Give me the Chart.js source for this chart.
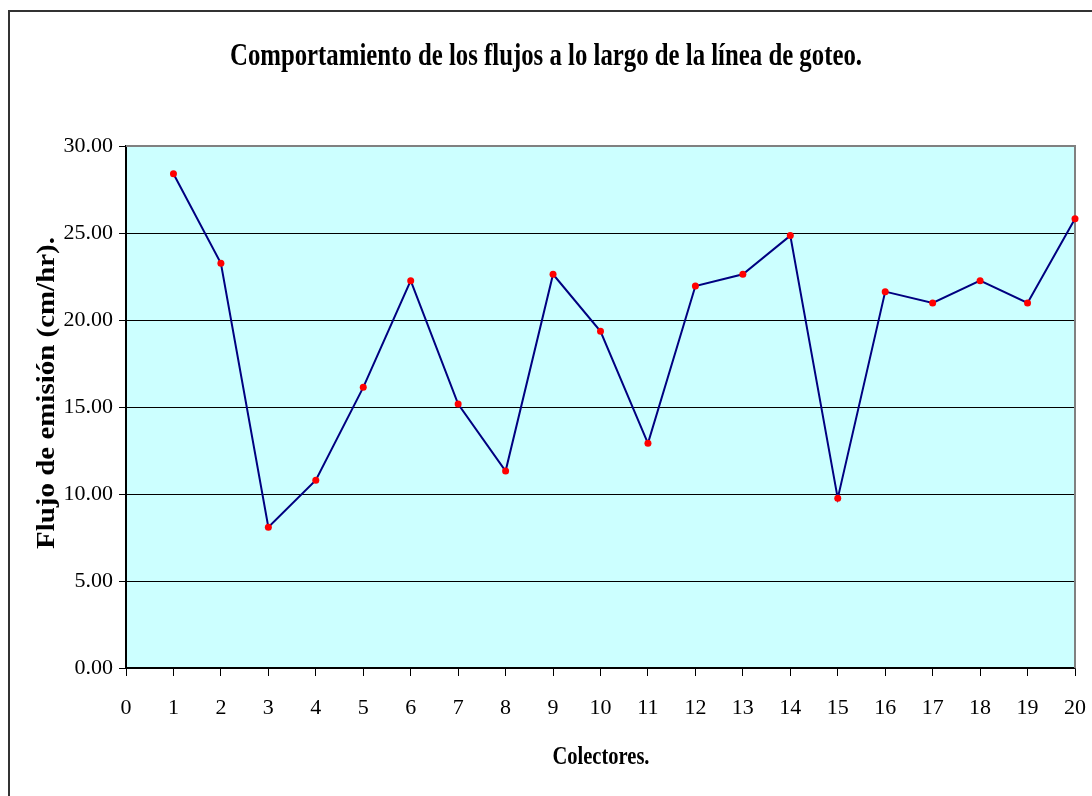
<!DOCTYPE html>
<html>
<head>
<meta charset="utf-8">
<script src="https://cdn.jsdelivr.net/npm/chart.js@4/dist/chart.umd.min.js"></script>
<style>
  html, body { margin: 0; padding: 0; background: #ffffff; }
  canvas { display: block; }
</style>
</head>
<body>
<canvas id="c" width="1092" height="796"></canvas>
<script>
// ---- Data ----
const colectores = [1, 2, 3, 4, 5, 6, 7, 8, 9, 10, 11, 12, 13, 14, 15, 16, 17, 18, 19, 20];
const flujo = [28.41, 23.26, 8.09, 10.79, 16.13, 22.26, 15.17, 11.32, 22.63, 19.35,
               12.91, 21.95, 22.63, 24.85, 9.75, 21.63, 20.98, 22.26, 20.98, 25.82];
const xTickValues = [0, 1, 2, 3, 4, 5, 6, 7, 8, 9, 10, 11, 12, 13, 14, 15, 16, 17, 18, 19, 20];
const yTickLabels = ['0.00', '5.00', '10.00', '15.00', '20.00', '25.00', '30.00'];
const chartTitle = 'Comportamiento de los flujos a lo largo de la línea de goteo.';
const xTitle = 'Colectores.';
const yTitle = 'Flujo de emisión (cm/hr).';

const SERIF = '"Liberation Serif", "Times New Roman", serif';

function fitText(ctx, text, font, cx, cy, targetW, rotate) {
  ctx.save();
  ctx.font = font;
  ctx.fillStyle = '#000';
  ctx.textAlign = 'center';
  ctx.textBaseline = 'alphabetic';
  const w = ctx.measureText(text).width;
  const sx = targetW / w;
  ctx.translate(cx, cy);
  if (rotate) ctx.rotate(-Math.PI / 2);
  ctx.scale(sx, 1);
  ctx.fillText(text, 0, 0);
  ctx.restore();
}

const decor = {
  id: 'decor',
  beforeDraw(chart) {
    const ctx = chart.ctx, a = chart.chartArea;
    ctx.save();
    ctx.fillStyle = '#ffffff';
    ctx.fillRect(0, 0, chart.width, chart.height);
    ctx.strokeStyle = '#333333';
    ctx.lineWidth = 2;
    ctx.strokeRect(9, 11, chart.width + 20, chart.height + 20);
    ctx.fillStyle = '#CCFFFF';
    ctx.fillRect(a.left, a.top, a.right - a.left, a.bottom - a.top);
    ctx.restore();
  },
  beforeDatasetsDraw(chart) {
    const ctx = chart.ctx, a = chart.chartArea;
    ctx.save();
    ctx.strokeStyle = '#808080';
    ctx.lineWidth = 2;
    ctx.beginPath();
    ctx.moveTo(a.left, a.top);
    ctx.lineTo(a.right, a.top);
    ctx.lineTo(a.right, a.bottom);
    ctx.stroke();
    ctx.restore();
  },
  afterDraw(chart) {
    const ctx = chart.ctx;
    fitText(ctx, chartTitle, 'bold 31px ' + SERIF, 546, 65, 632, false);
    fitText(ctx, xTitle, 'bold 26px ' + SERIF, 601, 764, 97, false);
    fitText(ctx, yTitle, 'bold 26px ' + SERIF, 54, 393, 312, true);
  }
};

new Chart(document.getElementById('c'), {
  type: 'line',
  data: {
    datasets: [{
      data: colectores.map((c, i) => ({ x: c, y: flujo[i] })),
      borderColor: '#000080',
      borderWidth: 2,
      pointRadius: 3.5,
      pointHoverRadius: 3.5,
      pointBackgroundColor: '#FF0000',
      pointBorderWidth: 0,
      tension: 0,
      clip: false
    }]
  },
  options: {
    responsive: false,
    animation: false,
    events: [],
    layout: { padding: { top: 146, right: 17, left: 0, bottom: 0 } },
    plugins: { legend: { display: false }, title: { display: false }, tooltip: { enabled: false } },
    scales: {
      x: {
        type: 'linear',
        min: 0, max: 20,
        afterFit(s) { s.height = 128; s.paddingLeft = 0; s.paddingRight = 0; },
        afterBuildTicks(s) { s.ticks = xTickValues.map(v => ({ value: v })); },
        ticks: {
          color: '#000',
          font: { family: SERIF, size: 22 },
          padding: 19,
          maxRotation: 0,
          autoSkip: false,
          callback: v => String(v)
        },
        grid: { drawOnChartArea: false, drawTicks: true, tickLength: 8, color: '#000', lineWidth: 1 },
        border: { color: '#000', width: 1.5 }
      },
      y: {
        min: 0, max: 30,
        afterFit(s) { s.width = 126; s.paddingTop = 0; s.paddingBottom = 0; },
        afterBuildTicks(s) { s.ticks = yTickLabels.map(l => ({ value: parseFloat(l) })); },
        ticks: {
          color: '#000',
          font: { family: SERIF, size: 22 },
          padding: 6,
          autoSkip: false,
          callback: (v, i) => yTickLabels[i]
        },
        grid: {
          color: c => (c.tick && c.tick.value === 30) ? 'rgba(0,0,0,0)' : '#000',
          lineWidth: 1,
          tickLength: 7,
          tickColor: '#000'
        },
        border: { color: '#000', width: 2 }
      }
    }
  },
  plugins: [decor]
});
</script>
</body>
</html>
